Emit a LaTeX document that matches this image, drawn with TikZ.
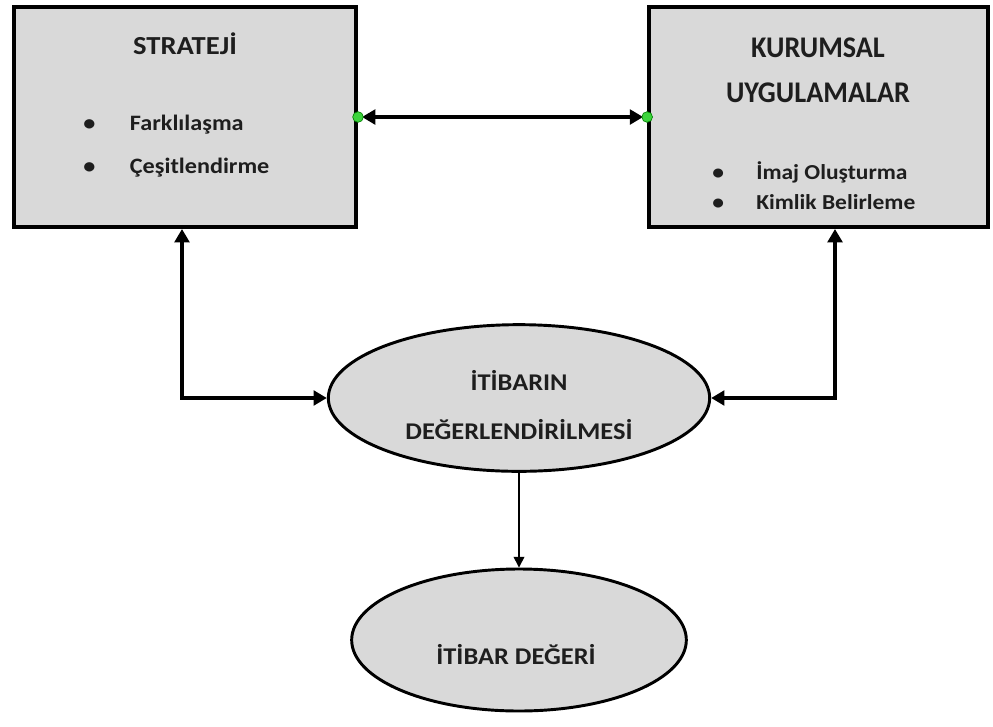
\documentclass[tikz,border=0pt]{standalone}
\usepackage{fontspec}
\setmainfont{Carlito}[FakeStretch=1.1]
\newfontfamily\narrowfont{Carlito}[FakeStretch=0.94]
\usetikzlibrary{shapes.geometric,arrows.meta}

\definecolor{boxgray}{HTML}{D9D9D9}
\definecolor{txt}{HTML}{1E1E1E}
\definecolor{pingreen}{HTML}{3CD43C}
\newcommand{\bul}{\makebox[35pt][l]{\textbullet}}
\newcommand{\bulsmall}{\makebox[33pt][l]{\textbullet}}

\begin{document}
\begin{tikzpicture}[x=0.75pt,y=-0.75pt]
    % styles
    \tikzset{
        box/.style={rectangle, draw=black, line width=3pt, fill=boxgray, inner sep=0pt},
        oval/.style={ellipse, draw=black, line width=2.2pt, fill=boxgray, inner sep=0pt},
        ovaltext/.style={align=center, text=txt, font=\bfseries\fontsize{18}{37}\selectfont},
        title/.style={align=center, text=txt, font=\bfseries\fontsize{19.5}{34}\selectfont},
        bigtitle/.style={title, font=\narrowfont\bfseries\fontsize{22.5}{34}\selectfont},
        item/.style={anchor=west, inner sep=0pt, text=txt, font=\bfseries\fontsize{16.5}{20}\selectfont},
        smallitem/.style={item, font=\bfseries\fontsize{16}{19}\selectfont},
        link/.style={line width=3pt, {Triangle[length=10pt,width=11pt]}-{Triangle[length=10pt,width=11pt]}},
        thinlink/.style={line width=1.1pt, -{Triangle[length=8pt,width=8pt]}},
        pin/.style={circle, draw=green!50!black, line width=0.5pt, fill=pingreen, inner sep=0pt, minimum size=8pt},
    }
    \useasboundingbox (0,0) rectangle (993,726);

    % the two boxes
    \node[box, minimum width=256.5pt, minimum height=165pt] (strateji) at (185,117) {};
    \node[box, minimum width=254pt, minimum height=165pt] (kurumsal) at (818.5,117) {};

    % box texts
    \node[title] (stratejiT) at (185,44) {STRATEJİ};
    \foreach \txt [count=\i] in {Farklılaşma, Çeşitlendirme}
        \node[item] (s\i) at (83,82+43*\i) {\bul\txt};
    \node[bigtitle] (kurumsalT) at (818,70) {KURUMSAL\\UYGULAMALAR};
    \foreach \txt [count=\i] in {İmaj Oluşturma, Kimlik Belirleme}
        \node[smallitem] (k\i) at (712,142+30*\i) {\bulsmall\txt};

    % the two ellipses
    \node[oval, minimum width=286pt, minimum height=110pt] (degerlendirme) at (519,398) {};
    \node[ovaltext] (degerlendirmeT) at (519,405) {İTİBARIN\\DEĞERLENDİRİLMESİ};
    \node[oval, minimum width=251pt, minimum height=106.5pt] (deger) at (519,640) {};
    \node[ovaltext] (degerT) at (516,655) {İTİBAR DEĞERİ};

    % columns of the side links
    \coordinate (lcol) at (182,0);
    \coordinate (rcol) at (835,0);

    % connectors
    \draw[link, shorten <=3pt, shorten >=3pt] (strateji.east) -- (kurumsal.west);
    \draw[link] (strateji.south -| lcol) |- (degerlendirme.west);
    \draw[link] (kurumsal.south -| rcol) |- (degerlendirme.east);
    \draw[thinlink] (degerlendirme.south) -- (deger.north);

    % green connection points
    \node[pin] (pinL) at (strateji.east) {};
    \node[pin] (pinR) at (kurumsal.west) {};
\end{tikzpicture}
\end{document}
